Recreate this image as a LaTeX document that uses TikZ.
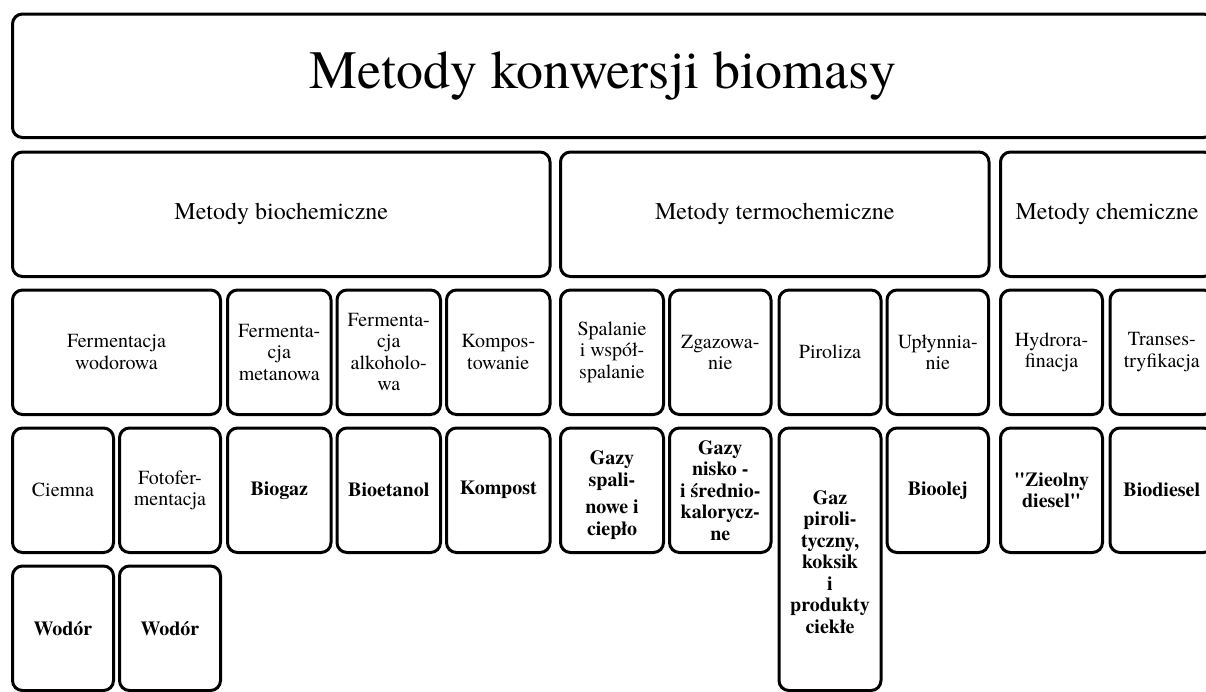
\documentclass[tikz,border=0pt]{standalone}
\usepackage{fontspec}
\setmainfont{TeX Gyre Termes}
\begin{document}
\begin{tikzpicture}[x=1pt,y=-1pt,
  box/.style={draw=black,line width=3pt,rounded corners=10pt,inner sep=0pt,
    align=center,font=\fontsize{20}{21.5}\selectfont},
  prod/.style={box,font=\fontsize{20}{21.5}\selectfont\bfseries},
  grp/.style={box,font=\fontsize{24}{26}\selectfont},
  rowh/.style={minimum height=124.5pt}]
\clip (0,0) rectangle (1206,691);
\useasboundingbox (0,0) rectangle (1206,691);

% title
\node[box,minimum width=1201pt,minimum height=123.5pt,
  font=\fontsize{54}{58}\selectfont] (title) at (613,75.75)
  {\hspace*{-20pt}Metody konwersji biomasy};

% method groups
\node[grp,rowh,minimum width=537.5pt] (bio) at (281.25,214.25) {Metody biochemiczne};
\node[grp,rowh,minimum width=428.5pt] (termo) at (774.75,214.25) {Metody termochemiczne};
\node[grp,rowh,minimum width=213pt] (chem) at (1107,214.25) {Metody chemiczne};

% processes
\node[box,rowh,minimum width=208pt] (fw) at (116.5,352.25) {Fermentacja\\wodorowa};
\node[box,rowh,minimum width=103.5pt] (met) at (279.25,352.25) {Fermenta-\\cja\\metanowa};
\node[box,rowh,minimum width=103.5pt] (alk) at (388.75,352.25) {Fermenta-\\cja\\alkoholo-\\wa};
\node[box,rowh,minimum width=103.5pt] (komp) at (498.25,352.25) {Kompos-\\towanie};
\node[box,rowh,minimum width=103pt] (spal) at (612,352.25) {Spalanie\\i współ-\\spalanie};
\node[box,rowh,minimum width=101.5pt] (zgaz) at (720.25,352.25) {Zgazowa-\\nie};
\node[box,rowh,minimum width=102pt] (pir) at (830,352.25) {Piroliza};
\node[box,rowh,minimum width=101.5pt] (upl) at (937.75,352.25) {Upłynnia-\\nie};
\node[box,rowh,minimum width=102pt] (hyd) at (1051.5,352.25) {Hydrora-\\finacja};
\node[box,rowh,minimum width=103.5pt] (tra) at (1161.75,352.25) {Transes-\\tryfikacja};

% sub-processes and products
\node[box,rowh,minimum width=101pt] (ciem) at (63,490.25) {Ciemna};
\node[box,rowh,minimum width=101pt] (foto) at (170,490.25) {Fotofer-\\mentacja};
\node[prod,rowh,minimum width=103.5pt] (biogaz) at (279.25,490.25) {Biogaz};
\node[prod,rowh,minimum width=103.5pt] (bioet) at (388.75,490.25) {Bioetanol};
\node[prod,rowh,minimum width=103.5pt] (kompost) at (498.25,490.25) {Kompost};
\node[prod,rowh,minimum width=103pt] (gspal) at (612,490.25)
  {\rule{0pt}{24pt}Gazy\\spali-\\[6pt]nowe i\\ciepło};
\node[prod,rowh,minimum width=101.5pt] (gnisk) at (720.25,490.25) {Gazy\\nisko -\\i średnio-\\kalorycz-\\ne};
\node[prod,minimum height=262.5pt,minimum width=102pt] (gpir) at (830,559.25)
  {\rule{0pt}{19.5pt}Gaz\\piroli-\\tyczny,\\koksik\\i\\produkty\\ciekłe};
\node[prod,rowh,minimum width=101.5pt] (bioolej) at (937.75,490.25) {Bioolej};
\node[prod,rowh,minimum width=102pt] (zdiesel) at (1051.5,490.25) {\textquotedbl Zieolny\\diesel\textquotedbl};
\node[prod,rowh,minimum width=103.5pt] (biodiesel) at (1161.75,490.25) {Biodiesel};

% hydrogen from both fermentation routes
\node[prod,rowh,minimum width=101pt] (wod1) at (63,628.25) {Wodór};
\node[prod,rowh,minimum width=101pt] (wod2) at (170,628.25) {Wodór};
\end{tikzpicture}
\end{document}
